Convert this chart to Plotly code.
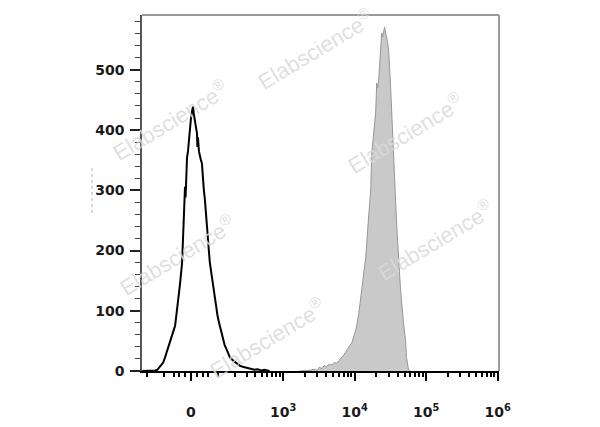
import numpy as np
import plotly.graph_objects as go

# ---------------- data ----------------
# Unstained / isotype control (black outline histogram): fluorescence value, event count
ctrl_fl = [-236, -177, -147, -135, -120, -105, -96, -83, -74, -66.5, -58.8, -55, -47.7, -44,
           -37, -30, -26.7, -23.3, -19.9, -18, -16.5, -13.2, -9.9, -6.6, -3.3, 0, 3.3, 6.6,
           9.9, 13.2, 16.5, 19.9, 21.5, 23.3, 26.7, 30, 33.5, 37, 40.5, 44, 47.7, 51.3, 55,
           58.8, 62.6, 66.5, 70.5, 74.5, 78.6, 87, 96, 100, 110, 120, 125, 135, 147, 165,
           184, 212, 236, 262, 290, 332, 367, 392, 433, 493, 545, 641]
ctrl_cnt = [0, 0, 1, 2, 7, 14, 23, 40, 52, 63, 70, 75, 100, 113,
            145, 179, 226, 270, 306, 288, 322, 354, 365, 385, 395, 420, 430, 439,
            425, 417, 405, 395, 372, 388, 365, 355, 350, 345, 312, 300, 285, 260, 235,
            218, 200, 180, 168, 156, 145, 123, 102, 90, 75, 63, 55, 43, 35, 23,
            18, 13, 9, 7, 6, 5, 3, 2, 3, 1, 2, 0]

# Stained sample (grey filled histogram)
stain_fl = [1683, 2317, 2717, 2994, 3190, 3507, 3741, 3990, 4395, 4830, 5150, 5670, 6040,
            6650, 7100, 7810, 8320, 9170, 9772, 10420, 11460, 12620, 13460, 14330, 15780,
            16830, 17380, 18530, 19740, 20380, 21050, 21730, 23170, 23930, 24710, 25500,
            26320, 27170, 28060, 28970, 29920, 31900, 32940, 35100, 37420, 38650, 41210,
            43940, 48310, 51530, 53200, 56760, 60400]
stain_cnt = [0, 1, 3, 1, 6, 4, 9, 7, 11, 10, 14, 13, 17,
             22, 27, 35, 40, 47, 58, 68, 96, 140, 165, 189, 259,
             301, 362, 395, 429, 478, 470, 483, 538, 561, 555, 568,
             571, 560, 555, 545, 533, 472, 429, 362, 284, 246, 189,
             135, 80, 51, 23, 2, 0]

major_fl = [0, 1e3, 1e4, 1e5, 1e6]
major_txt = ["0", "10<sup>3</sup>", "10<sup>4</sup>", "10<sup>5</sup>", "10<sup>6</sup>"]
minor_fl = ([-200, -100, -60, -40, -20, 20, 40, 60, 100, 200, 300, 400, 500, 600, 700, 800, 900]
            + [m * 10 ** e for e in (3, 4, 5) for m in range(2, 10)])
y_major = [0, 100, 200, 300, 400, 500]

watermarks = [(315, 49), (170, 120), (405, 133), (177, 255), (435, 240), (267, 338)]

# ---------------- biexponential-like display scale ----------------
def tr(v):
    return np.arcsinh(np.asarray(v, dtype=float) / 103.0) / np.log(10)

OFF = 8  # page body margin
W, H = 600 - OFF, 427 - OFF
L, R, T, B = 142 - OFF, 101, 15 - OFF, 56
pw, ph = W - L - R, H - T - B
PLOT_BOTTOM = 371  # page pixel of y=0

fig = go.Figure()
fig.add_trace(go.Scatter(
    x=tr(stain_fl), y=stain_cnt, mode="lines", fill="tozeroy",
    fillcolor="rgb(201,201,201)", line=dict(color="rgb(150,150,150)", width=1),
    hoverinfo="skip", showlegend=False))
fig.add_trace(go.Scatter(
    x=tr(ctrl_fl), y=ctrl_cnt, mode="lines",
    line=dict(color="black", width=2), hoverinfo="skip", showlegend=False))

font = dict(family="DejaVu Sans", size=14, color="#1a1a1a", weight="bold")

fig.update_xaxes(
    range=[-0.685, 4.308], showgrid=False, zeroline=False, automargin=False,
    showline=True, linecolor="black", linewidth=2,
    tickmode="array", tickvals=tr(major_fl), ticktext=major_txt,
    ticks="outside", ticklen=8, tickwidth=2, tickcolor="black",
    ticklabelstandoff=19, tickfont=font,
    minor=dict(tickvals=tr(minor_fl), ticks="outside", ticklen=4, tickwidth=1.5,
               tickcolor="black"))
fig.update_yaxes(
    range=[0, 591], showgrid=False, zeroline=False, automargin=False,
    showline=True, linecolor="#555", linewidth=1.5,
    tickmode="array", tickvals=y_major,
    ticks="outside", ticklen=10, tickwidth=2, tickcolor="#222",
    ticklabelstandoff=3, tickfont=font,
    minor=dict(dtick=20, ticks="outside", ticklen=5, tickwidth=1, tickcolor="#444"))

# grey top / right frame
fig.add_shape(type="line", xref="paper", yref="paper", x0=0, x1=1, y0=1, y1=1,
              line=dict(color="#9a9a9a", width=2))
fig.add_shape(type="line", xref="paper", yref="paper", x0=1, x1=1, y0=0, y1=1,
              line=dict(color="#9a9a9a", width=2))
# faint dashed artefact at left
fig.add_shape(type="line", xref="paper", yref="paper",
              x0=(92 - 142) / pw, x1=(92 - 142) / pw,
              y0=(PLOT_BOTTOM - 213) / ph, y1=(PLOT_BOTTOM - 168) / ph,
              line=dict(color="#b0b0b0", width=1, dash="dot"))

for px, py in watermarks:
    fig.add_annotation(
        xref="paper", yref="paper", x=(px - 142) / pw, y=(PLOT_BOTTOM - py) / ph,
        xanchor="center", yanchor="middle",
        text="Elabscience<sup>®</sup>", showarrow=False, textangle=-31,
        font=dict(family="Liberation Sans", size=22, color="rgba(218,218,218,0.85)"))

fig.update_layout(
    width=W, height=H, margin=dict(l=L, r=R, t=T, b=B),
    paper_bgcolor="white", plot_bgcolor="white")

fig.write_html("out.html")
